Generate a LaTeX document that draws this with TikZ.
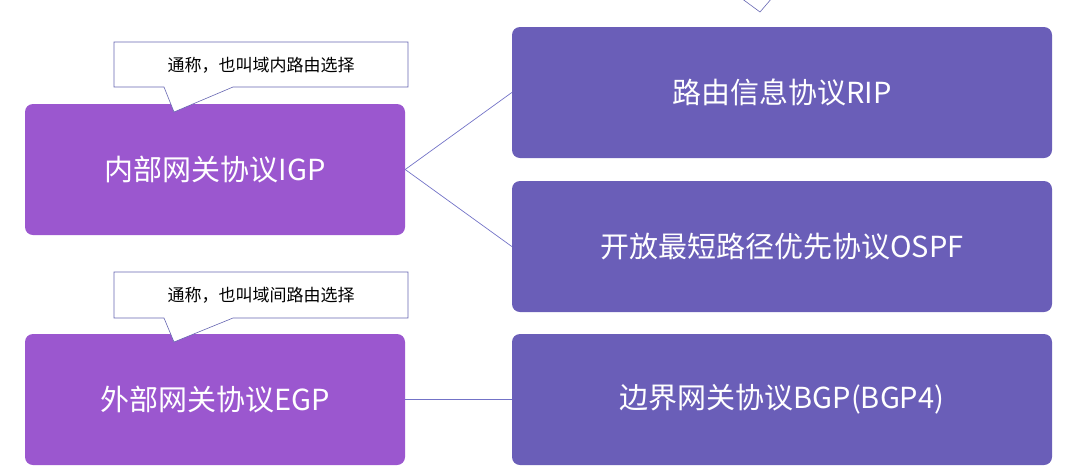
\documentclass[tikz,border=0pt]{standalone}
\usepackage{fontspec}
\setmainfont{Noto Sans CJK SC}
\begin{document}
\begin{tikzpicture}[x=1pt,y=-1pt,
  lbox/.style={draw=none,fill=#1,rounded corners=8pt,text=white,font=\fontsize{29}{34}\selectfont,inner sep=0pt},
  call/.style={draw=black!50!blue!60,fill=white,line width=0.6pt},
  conn/.style={draw=black!40!blue!55,line width=0.7pt}]
\useasboundingbox (0,0) rectangle (1087,472);
\definecolor{pA}{HTML}{9B57CF}
\definecolor{pB}{HTML}{6A5EB8}
\node[lbox=pA,minimum width=380pt,minimum height=131pt] (igp) at (215,169.5) {内部网关协议IGP};
\node[lbox=pA,minimum width=380pt,minimum height=131pt] (egp) at (215,399.5) {外部网关协议EGP};
\node[lbox=pB,minimum width=540pt,minimum height=131pt] (rip) at (782,92.5) {路由信息协议RIP};
\node[lbox=pB,minimum width=540pt,minimum height=131pt] (ospf) at (782,246.5) {开放最短路径优先协议OSPF};
\node[lbox=pB,minimum width=540pt,minimum height=131pt] (bgp) at (782,399.5) {边界网关协议BGP(BGP4)};
\draw[conn] (igp.east) -- (rip.west);
\draw[conn] (igp.east) -- (ospf.west);
\draw[conn] (egp.east) -- (bgp.west);
% callouts
\draw[call] (114,42) -- (408,42) -- (408,87) -- (233,87) -- (174,112) -- (164,87) -- (114,87) -- cycle;
\node[font=\fontsize{17}{20}\selectfont] (c1) at (261,65) {通称，也叫域内路由选择};
\draw[call] (114,272) -- (408,272) -- (408,318) -- (233,318) -- (174,342) -- (164,318) -- (114,318) -- cycle;
\node[font=\fontsize{17}{20}\selectfont] (c2) at (261,295) {通称，也叫域间路由选择};
\coordinate (t1) at (741,-2);
\coordinate (t2) at (760,12);
\coordinate (t3) at (772,-2);
\draw[call,fill=none] (t1) -- (t2) -- (t3);
\end{tikzpicture}
\end{document}
